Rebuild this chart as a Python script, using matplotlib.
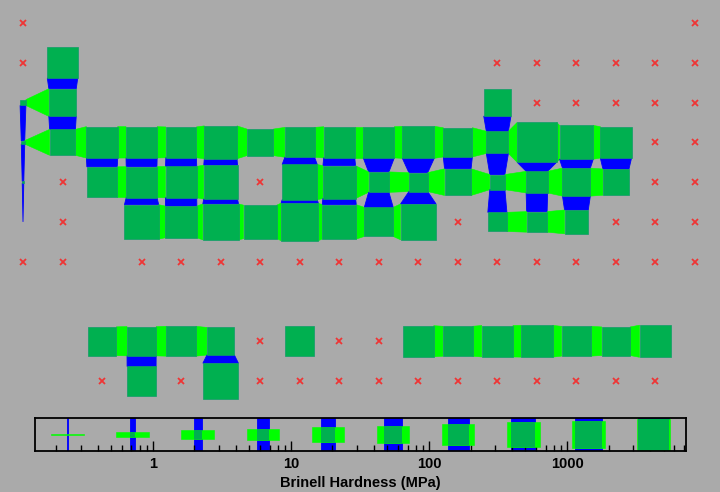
import numpy as np
import matplotlib
matplotlib.use("Agg")
import matplotlib.pyplot as plt
from matplotlib import ticker

plt.rcParams["font.family"] = ["Liberation Sans", "DejaVu Sans"]

# Brinell hardness (MPa) by atomic number 1..118, nan = no data
symbols = [
    "H", "He", "Li", "Be", "B", "C", "N", "O", "F", "Ne",
    "Na", "Mg", "Al", "Si", "P", "S", "Cl", "Ar", "K", "Ca",
    "Sc", "Ti", "V", "Cr", "Mn", "Fe", "Co", "Ni", "Cu", "Zn",
    "Ga", "Ge", "As", "Se", "Br", "Kr", "Rb", "Sr", "Y", "Zr",
    "Nb", "Mo", "Tc", "Ru", "Rh", "Pd", "Ag", "Cd", "In", "Sn",
    "Sb", "Te", "I", "Xe", "Cs", "Ba", "La", "Ce", "Pr", "Nd",
    "Pm", "Sm", "Eu", "Gd", "Tb", "Dy", "Ho", "Er", "Tm", "Yb",
    "Lu", "Hf", "Ta", "W", "Re", "Os", "Ir", "Pt", "Au", "Hg",
    "Tl", "Pb", "Bi", "Po", "At", "Rn", "Fr", "Ra", "Ac", "Th",
    "Pa", "U", "Np", "Pu", "Am", "Cm", "Bk", "Cf", "Es", "Fm",
    "Md", "No", "Lr", "Rf", "Db", "Sg", "Bh", "Hs", "Mt", "Ds",
    "Rg", "Cn", "Nh", "Fl", "Mc", "Lv", "Ts", "Og",
]
nan = np.nan
brinell = [
    nan, nan, nan, 600, nan, nan, nan, nan, nan, nan,
    0.69, 260, 245, nan, nan, nan, nan, nan, 0.363, 167,
    750, 716, 628, 1120, 196, 490, 700, 700, 874, 412,
    60, 7273, 1440, 736, nan, nan, 0.216, nan, 589, 650,
    736, 1500, nan, 2160, 1100, 37.3, 24.5, 203, 8.83, 51,
    294, 180, nan, nan, 0.14, nan, 363, 412, 481, 265,
    nan, 441, nan, nan, 677, 500, 746, 814, 471, 343,
    893, 1700, 800, 2570, 1320, 3920, 1670, 392, 2450, nan,
    26.4, 38.3, 94.2, nan, nan, nan, nan, nan, nan, 400,
    nan, 2400, nan, nan, nan, nan, nan, nan, nan, nan,
    nan, nan, nan, nan, nan, nan, nan, nan, nan, nan,
    nan, nan, nan, nan, nan, nan, nan, nan,
]

SQ = "#00b050"
HBAR = "#00ff00"
VBAR = "#0000ff"
MISS = "#ee3535"
BG = "#aaaaaa"


def grid_pos(z):
    """(column, row) in the usual table layout; f-block on rows 9 and 10."""
    if z == 1:
        return 1, 1
    if z == 2:
        return 18, 1
    for start, row in ((3, 2), (11, 3)):
        if start <= z < start + 8:
            k = z - start
            return (k + 1 if k < 2 else k + 11), row
    for start, row in ((19, 4), (37, 5)):
        if start <= z < start + 18:
            return z - start + 1, row
    for start, row, frow in ((55, 6, 9), (87, 7, 10)):
        k = z - start
        if 0 <= k < 32:
            if k < 2:
                return k + 1, row
            if k < 17:
                return k + 1, frow
            return k - 13, row
    raise ValueError(z)


h = np.array(brinell, dtype=float)
lmin, lmax = np.log10(np.nanmin(h)), np.log10(np.nanmax(h))


def side(v):
    return (np.log10(v) - lmin) / (lmax - lmin)


cells = {}
for z, v in enumerate(h, start=1):
    cells[grid_pos(z)] = v

fig = plt.figure(figsize=(7.2, 4.92), dpi=100, facecolor=BG)
ax = fig.add_axes([0, 0, 1, 1])
ax.set_facecolor(BG)
x0 = 1 - 23 / 39.53
y0 = 1 - 23 / 39.78
ax.set_xlim(x0, x0 + 720 / 39.53)
ax.set_ylim(y0 + 492 / 39.78, y0)
ax.axis("off")

# connectors between neighbouring elements
for (c, r), v in cells.items():
    if np.isnan(v):
        continue
    s1 = side(v) / 2
    right = cells.get((c + 1, r), nan)
    if not np.isnan(right):
        s2 = side(right) / 2
        ax.fill([c + s1, c + 1 - s2, c + 1 - s2, c + s1],
                [r - s1, r - s2, r + s2, r + s1], color=HBAR, lw=0.4, zorder=1)
    below = cells.get((c, r + 1), nan)
    if not np.isnan(below):
        s2 = side(below) / 2
        ax.fill([c - s1, c - s2, c + s2, c + s1],
                [r + s1, r + 1 - s2, r + 1 - s2, r + s1], color=VBAR, lw=0.6, zorder=1)

# element squares and missing markers
for (c, r), v in cells.items():
    if np.isnan(v):
        ax.plot(c, r, "x", color=MISS, ms=4, mew=1.3, zorder=3)
        continue
    s = side(v) / 2
    ax.fill([c - s, c + s, c + s, c - s], [r - s, r - s, r + s, r + s],
            facecolor=SQ, edgecolor="#109c68", lw=0.5, zorder=2)

# legend strip
lax = fig.add_axes([35 / 720, 41 / 492, 651 / 720, 33 / 492])
lax.set_facecolor(BG)
lax.set_xscale("log")
lax.set_xlim(10 ** lmin, 10 ** lmax)
yh = 0.5 * 33 / 32.5
lax.set_ylim(-yh, yh)
nbins = 10
bw = (lmax - lmin) / nbins
for i in range(nbins):
    lc = lmin + (i + 0.5) * bw
    f = (i + 0.5) / nbins
    fx = f * bw / 4
    hw = bw / 4
    lax.fill([10 ** (lc - fx), 10 ** (lc + fx), 10 ** (lc + fx), 10 ** (lc - fx)],
             [-yh, -yh, yh, yh], color=VBAR, lw=0.6, zorder=1)
    lax.fill([10 ** (lc - hw), 10 ** (lc + hw), 10 ** (lc + hw), 10 ** (lc - hw)],
             [-f / 2, -f / 2, f / 2, f / 2], color=HBAR, lw=0.4, zorder=2)
    lax.fill([10 ** (lc - fx), 10 ** (lc + fx), 10 ** (lc + fx), 10 ** (lc - fx)],
             [-f / 2, -f / 2, f / 2, f / 2], color=SQ, lw=0, zorder=3)

lax.set_yticks([])
lax.xaxis.set_major_formatter(ticker.FuncFormatter(lambda v, _: f"{v:g}"))
lax.xaxis.set_minor_formatter(ticker.NullFormatter())
lax.tick_params(axis="x", which="major", direction="in", length=7, width=1, pad=4,
                labelsize=10.5)
lax.tick_params(axis="x", which="minor", direction="in", length=4, width=1)
for lab in lax.get_xticklabels():
    lab.set_fontweight("bold")
for sp in lax.spines.values():
    sp.set_linewidth(1.3)
lax.set_xlabel("Brinell Hardness (MPa)", fontsize=10.5, fontweight="bold", labelpad=4)

fig.savefig("out.png", dpi=100, facecolor=BG)
